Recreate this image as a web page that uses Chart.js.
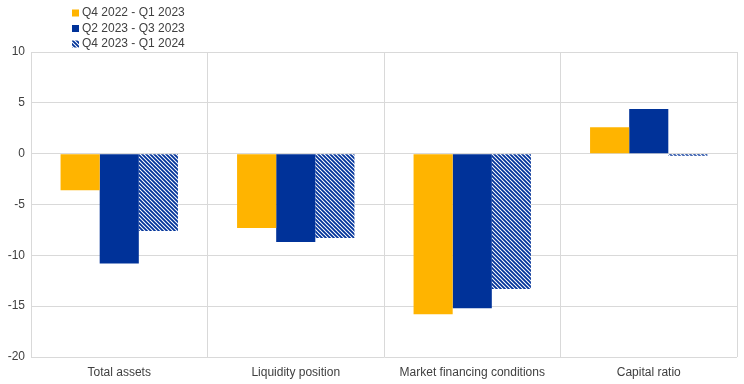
<!DOCTYPE html>
<html>
<head>
<meta charset="utf-8">
<script src="https://cdn.jsdelivr.net/npm/chart.js@4/dist/chart.umd.min.js"></script>
<style>
html,body{margin:0;padding:0;background:#fff;}
#wrap{width:744px;height:384px;position:relative;}
</style>
</head>
<body>
<div id="wrap"><canvas id="c" width="744" height="384"></canvas></div>
<script>
const categories = ['Total assets', 'Liquidity position', 'Market financing conditions', 'Capital ratio'];
const seriesNames = ['Q4 2022 - Q1 2023', 'Q2 2023 - Q3 2023', 'Q4 2023 - Q1 2024'];
const q4_2022_q1_2023 = [-3.6, -7.3, -15.8, 2.6];
const q2_2023_q3_2023 = [-10.8, -8.7, -15.2, 4.4];
const q4_2023_q1_2024 = [-7.6, -8.3, -13.3, -0.2];
const yTicks = [10, 5, 0, -5, -10, -15, -20];

const ORANGE = '#FFB400';
const BLUE = '#003299';

function makeHatch() {
  const p = document.createElement('canvas');
  p.width = 4; p.height = 4;
  const g = p.getContext('2d');
  g.fillStyle = '#fff';
  g.fillRect(0, 0, 4, 4);
  g.strokeStyle = BLUE;
  g.lineWidth = 1.8;
  g.beginPath();
  g.moveTo(-1, -1); g.lineTo(5, 5);
  g.moveTo(-3, 1); g.lineTo(1, 5);
  g.moveTo(3, -1); g.lineTo(5, 1);
  g.stroke();
  return g.createPattern(p, 'repeat');
}
const hatch = makeHatch();

const FONT = 'Liberation Sans, Arial, sans-serif';
const TEXT = '#404040';

const legendPlugin = {
  id: 'vlegend',
  afterDraw(chart) {
    const ctx = chart.ctx;
    ctx.save();
    ctx.font = '12px ' + FONT;
    ctx.textBaseline = 'middle';
    chart.data.datasets.forEach((ds, i) => {
      const y = 13 + i * 15.5;
      ctx.fillStyle = ds.backgroundColor;
      ctx.fillRect(72, y - 3.5, 7, 7);
      ctx.fillStyle = TEXT;
      ctx.fillText(ds.label, 82, y);
    });
    ctx.restore();
  }
};

new Chart(document.getElementById('c'), {
  type: 'bar',
  data: {
    labels: categories,
    datasets: [
      { label: seriesNames[0], data: q4_2022_q1_2023, backgroundColor: ORANGE },
      { label: seriesNames[1], data: q2_2023_q3_2023, backgroundColor: BLUE },
      { label: seriesNames[2], data: q4_2023_q1_2024, backgroundColor: hatch }
    ]
  },
  options: {
    responsive: false,
    animation: false,
    devicePixelRatio: 1,
    layout: { padding: { top: 52, right: 7, left: 0, bottom: 0 } },
    datasets: { bar: { barPercentage: 1, categoryPercentage: 0.665, borderWidth: 0 } },
    plugins: { legend: { display: false }, tooltip: { enabled: false } },
    scales: {
      x: {
        grid: { color: '#d9d9d9', lineWidth: 1, offset: true, drawTicks: false },
        border: { display: false },
        ticks: { color: TEXT, font: { family: FONT, size: 12 }, padding: 8, maxRotation: 0 },
        afterFit(s) { s.height = 27; }
      },
      y: {
        min: -20, max: 10,
        grid: { color: '#d9d9d9', lineWidth: 1, drawTicks: false },
        border: { color: '#d9d9d9', width: 1 },
        afterBuildTicks(s) { s.ticks = yTicks.map(v => ({ value: v })); },
        ticks: { color: TEXT, font: { family: FONT, size: 12 }, padding: 6 },
        afterFit(s) { s.width = 31; }
      }
    }
  },
  plugins: [legendPlugin]
});
</script>
</body>
</html>
